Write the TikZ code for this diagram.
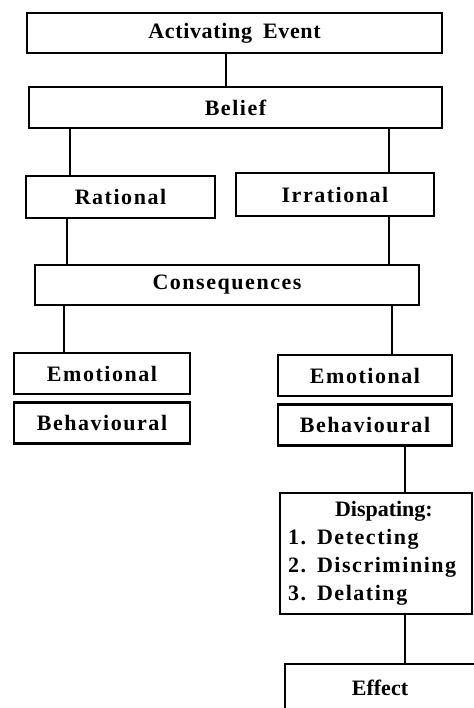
\documentclass[tikz,border=0pt]{standalone}
\usepackage{fontspec}
\setmainfont{Liberation Serif}
\newfontfamily\spaced[LetterSpace=7]{Liberation Serif}
\newfontfamily\spacedlow[LetterSpace=3]{Liberation Serif}
\usetikzlibrary{positioning}

\begin{document}
\begin{tikzpicture}[x=1pt, y=-1pt, node distance=6pt,
  box/.style={draw, line width=2.6pt, inner sep=0pt, align=center,
    font=\spaced\bfseries\fontsize{22}{26}\selectfont},
  plain/.style={font=\bfseries\fontsize{22}{26}\selectfont}]
  \useasboundingbox (0,0) rectangle (473,708);
  \node[box, font=\spacedlow\bfseries\fontsize{22}{26}\selectfont,
    minimum width=415pt, minimum height=40pt] (ae) at (234.5,33) {Activating\enspace Event};
  \node[box, minimum width=413pt, minimum height=41pt] (bel) at (235.5,107.5) {Belief};
  \node[box, minimum width=189pt, minimum height=42pt] (rat) at (120.5,197) {Rational};
  \node[box, minimum width=198pt, minimum height=43pt] (irr) at (335,194.5) {Irrational};
  \node[box, minimum width=384pt, minimum height=40pt] (con) at (227,285) {Consequences};
  \node[box, minimum width=176pt, minimum height=41pt] (emoL) at (102,373.5) {Emotional};
  \node[box, minimum width=176pt, minimum height=41pt, below=of emoL] (behL) {Behavioural};
  \node[box, minimum width=174pt, minimum height=41pt] (emoR) at (365,375.5) {Emotional};
  \node[box, minimum width=174pt, minimum height=41pt, below=of emoR] (behR) {Behavioural};
  \node[box, align=left, text width=176pt, inner xsep=8pt, minimum height=121pt,
    font=\spaced\bfseries\fontsize{22}{28}\selectfont] (disp) at (376,553.5)
    {\hspace*{47pt}{\rmfamily Dispating:}\\1. Detecting\\2. Discrimining\\3. Delating};
  \node[box, plain, minimum width=190pt, minimum height=48pt] (eff) at (380,688) {Effect};
  \foreach \a/\sa/\b/\sb in {ae/-8.5/bel/-9.5, bel/-165.5/rat/-50.5, bel/153.5/irr/54,
    rat/-53.5/con/-160, irr/54/con/162, con/-163/emoL/-38, con/165/emoR/27,
    behR/40/disp/29, disp/29/eff/25}
    \draw[line width=2.6pt] ([xshift=\sa pt]\a.south) -- ([xshift=\sb pt]\b.north);
\end{tikzpicture}
\end{document}
